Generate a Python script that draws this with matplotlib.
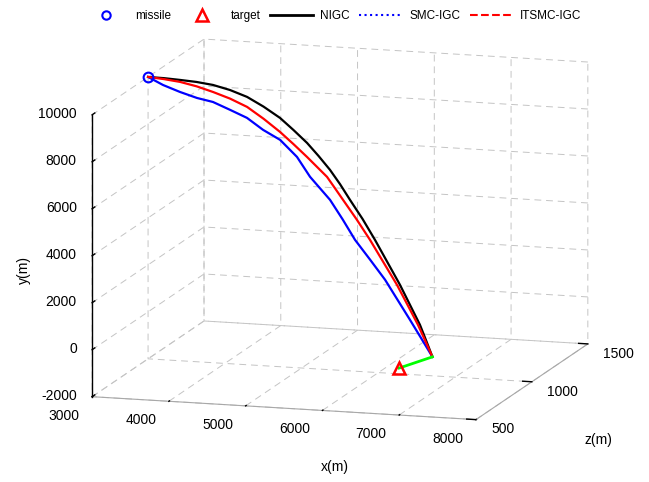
import matplotlib
matplotlib.use('Agg')
import matplotlib.pyplot as plt
from matplotlib.lines import Line2D

plt.rcParams['font.family'] = ['Liberation Sans', 'DejaVu Sans']
plt.rcParams['font.size'] = 10

############################## data ##############################
# points are (x, z, y): x along the front, z into the page, y up
missile_start = [3000, 1000, 10000]
target_x = [7000, 7200]
target_z = [500, 660]
target_y = [0, 0]

nigc_x = [3000, 3212, 3424, 3643, 3862, 4094, 4326, 4560, 4793, 4991, 5189, 5363, 5536,
          5693, 5849, 6048, 6246, 6448, 6650, 6815, 6980, 7090, 7200]
nigc_z = [1000, 998, 995, 992, 989, 982, 975, 962, 949, 934, 919, 903, 886,
          868, 850, 826, 801, 774, 747, 723, 699, 680, 660]
nigc_y = [10000, 9996, 9972, 9938, 9863, 9715, 9490, 9163, 8771, 8341, 7881, 7408, 6908,
          6388, 5808, 5109, 4340, 3511, 2681, 1940, 1200, 600, 0]

smc_x = [3000, 3211, 3444, 3677, 3892, 4128, 4363, 4593, 4832, 5083, 5288, 5589, 5788,
         5986, 6216, 6447, 6644, 6841, 7020, 7200]
smc_z = [1000, 989, 981, 973, 968, 959, 949, 935, 923, 902, 878, 850, 826,
         801, 777, 753, 729, 705, 683, 660]
smc_y = [10000, 9734, 9508, 9324, 9212, 8952, 8688, 8268, 7928, 7318, 6588, 5758, 5044,
         4290, 3574, 2838, 2102, 1366, 683, 0]

itsmc_x = [3000, 3213, 3426, 3650, 3874, 4109, 4344, 4581, 4818, 5016, 5213, 5361, 5509,
           5634, 5758, 5970, 6181, 6396, 6611, 6783, 6954, 7077, 7200]
itsmc_z = [1000, 997, 994, 988, 981, 972, 963, 948, 932, 917, 902, 890, 878,
           864, 850, 826, 801, 774, 747, 723, 699, 680, 660]
itsmc_y = [10000, 9958, 9891, 9766, 9592, 9384, 9106, 8695, 8234, 7799, 7344, 6987, 6630,
           6211, 5792, 5080, 4328, 3500, 2672, 1934, 1196, 598, 0]

x_ticks = [3000, 4000, 5000, 6000, 7000, 8000]
z_ticks = [500, 1000, 1500]
y_ticks = [-2000, 0, 2000, 4000, 6000, 8000, 10000]

legend_labels = ['missile', 'target', 'NIGC', 'SMC-IGC', 'ITSMC-IGC']

############################## figure ##############################
fig = plt.figure(figsize=(6.49, 4.82), dpi=100)
ax = fig.add_axes([0.0396, -0.128, 0.943, 1.270], projection='3d', proj_type='ortho')
ax.set_box_aspect((400.6, 393, 287.9))
ax.view_init(elev=11.6, azim=-73.45)

ax.plot(nigc_x, nigc_z, nigc_y, color='black', lw=1.6)
ax.plot(smc_x, smc_z, smc_y, color='blue', lw=1.6)
ax.plot(itsmc_x, itsmc_z, itsmc_y, color='red', lw=1.6)
ax.plot(target_x, target_z, target_y, color='#00ff00', lw=2)
ax.plot([missile_start[0]], [missile_start[1]], [missile_start[2]], 'o',
        mfc='none', mec='blue', mew=1.5, ms=7)
ax.plot([target_x[0]], [target_z[0]], [target_y[0]], '^',
        mfc='none', mec='red', mew=1.8, ms=9)

ax.set_xlim(3000, 8000)
ax.set_ylim(500, 1500)
ax.set_zlim(-2000, 10000)
ax.set_xticks(x_ticks)
ax.set_yticks(z_ticks)
ax.set_zticks(y_ticks)
ax.set_xticklabels([])
ax.set_yticklabels([])
ax.set_zticklabels([])
ax.zaxis.set_ticks_position('lower')

for axis in (ax.xaxis, ax.yaxis, ax.zaxis):
    axis.set_pane_color((1, 1, 1, 0))
    axis._axinfo['grid'].update(color='#c4c4c4', linewidth=0.7, linestyle=(0, (7, 5)))
    axis._axinfo['tick']['inward_factor'] = 0
    axis._axinfo['tick']['outward_factor'] = 0.3
    axis._axinfo['tick']['linewidth'] = {True: 1.0, False: 0.5}
    axis.line.set_color('#a8a8a8')
    axis.line.set_linewidth(0.8)
ax.xaxis._axinfo['tick']['outward_factor'] = 0.06
ax.zaxis.line.set_color('black')
ax.zaxis.line.set_linewidth(1.0)
ax.tick_params(colors='black')

# tick labels, placed like the original (offsets are in data units)
for t in x_ticks:
    ax.text(t, 250, -2000, str(t), ha='center', va='center')
for t in z_ticks:
    ax.text(8200, t, -2380, str(t), ha='left', va='center')
for t in y_ticks:
    ax.text(2800, 500, t, str(t), ha='right', va='center')

fig.text(24 / 649, 1 - 270 / 482, 'y(m)', rotation=90, ha='center', va='center')
fig.text(335 / 649, 1 - 467 / 482, 'x(m)', ha='center', va='center')
fig.text(598 / 649, 1 - 440 / 482, 'z(m)', ha='center', va='center')

handles = [
    Line2D([], [], ls='none', marker='o', mfc='none', mec='blue', mew=1.5, ms=6),
    Line2D([], [], ls='none', marker='^', mfc='none', mec='red', mew=1.8, ms=8),
    Line2D([], [], color='black', lw=2),
    Line2D([], [], color='blue', lw=1.5, ls=':'),
    Line2D([], [], color='red', lw=1.5, ls='--'),
]
fig.legend(handles, legend_labels, loc='center left', bbox_to_anchor=(85 / 649, 1 - 16 / 482),
           ncol=5, frameon=False, fontsize=8.5, handlelength=3.6, handletextpad=0.65,
           columnspacing=0.8, borderpad=0, borderaxespad=0)

fig.savefig('out.png', dpi=100)
